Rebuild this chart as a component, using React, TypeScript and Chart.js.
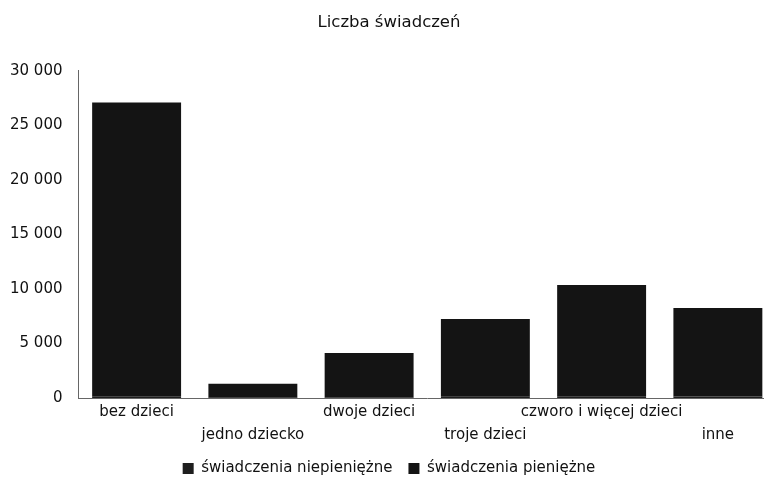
import React, { useEffect, useRef } from "react";
import { Chart, registerables } from "chart.js";

Chart.register(...registerables);

const categories: (string | string[])[] = [
  "bez dzieci",
  ["", "jedno dziecko"],
  "dwoje dzieci",
  ["", "troje dzieci"],
  "czworo i więcej dzieci",
  ["", "inne"],
];
const niepieniezne = [150, 30, 80, 120, 150, 130];
const pieniezne = [26950, 1270, 4050, 7130, 10220, 8130];
const yTicks = [0, 5000, 10000, 15000, 20000, 25000, 30000];

const FONT = "'DejaVu Sans', sans-serif";

export default function App() {
  const ref = useRef<HTMLCanvasElement | null>(null);
  useEffect(() => {
    if (!ref.current) return;
    const chart = new Chart(ref.current, {
      type: "bar",
      data: {
        labels: categories,
        datasets: [
          {
            label: "świadczenia niepieniężne",
            data: niepieniezne,
            backgroundColor: "#1e1e1e",
            borderWidth: 0,
            categoryPercentage: 0.765,
            barPercentage: 1,
          },
          {
            label: "świadczenia pieniężne",
            data: pieniezne,
            backgroundColor: "#141414",
            borderWidth: 0,
            categoryPercentage: 0.765,
            barPercentage: 1,
          },
        ],
      },
      options: {
        responsive: false,
        animation: false,
        maintainAspectRatio: false,
        layout: { padding: { left: 2, right: 0, top: 8, bottom: -9 } },
        plugins: {
          title: {
            display: true,
            text: "Liczba świadczeń",
            color: "#111",
            font: { family: FONT, size: 16.5, weight: "normal" },
            padding: { top: 5, bottom: 38 },
          },
          legend: {
            position: "bottom",
            labels: {
              color: "#111",
              font: { family: FONT, size: 15 },
              boxWidth: 11,
              boxHeight: 11,
              padding: 16,
            },
          },
          tooltip: { enabled: false },
        },
        scales: {
          x: {
            stacked: true,
            grid: { display: false, drawTicks: false, tickLength: 0 },
            border: { display: true, color: "#666", dash: [2, 2] },
            ticks: {
              color: "#111",
              font: { family: FONT, size: 15, lineHeight: 1.55 },
              maxRotation: 0,
              autoSkip: false,
              padding: 2,
            },
            afterFit: (axis: any) => {
              axis.height = 47;
            },
          },
          y: {
            stacked: true,
            min: 0,
            max: 30000,
            afterBuildTicks: (axis: any) => {
              axis.ticks = yTicks.map((v) => ({ value: v }));
            },
            grid: { display: false },
            border: { display: true, color: "#666", dash: [2, 2] },
            ticks: {
              color: "#111",
              font: { family: FONT, size: 15 },
              padding: 8,
              callback: (v: any) =>
                Number(v).toString().replace(/\B(?=(\d{3})+(?!\d))/g, " "),
            },
          },
        },
      },
    });
    return () => chart.destroy();
  }, []);
  return (
    <div style={{ position: "fixed", left: 0, top: 0, width: 764, height: 477, overflow: "hidden", background: "#fff" }}>
      <canvas ref={ref} width={776} height={477} />
    </div>
  );
}
